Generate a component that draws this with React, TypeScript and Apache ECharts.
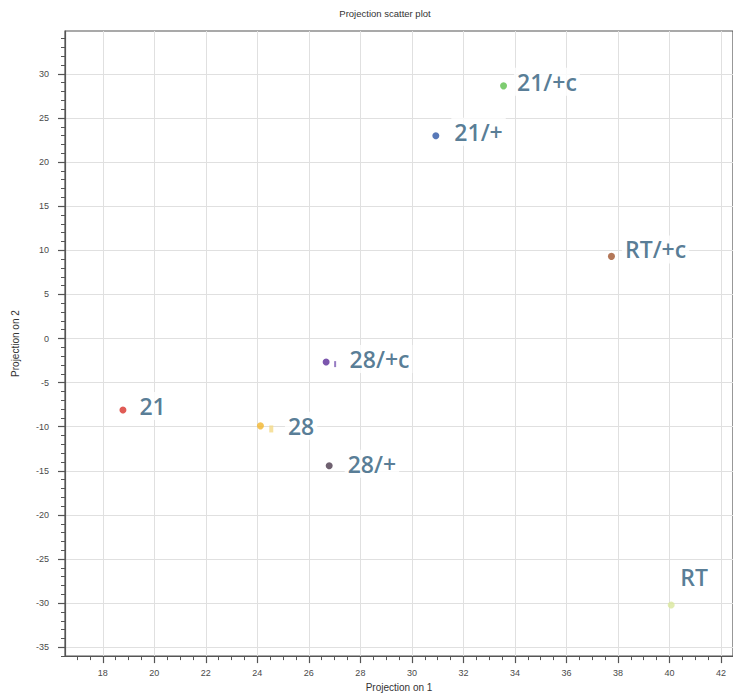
import React, { useEffect, useRef } from "react";
import * as echarts from "echarts";

// ---- data ----
const categories = ["21", "28", "28/+c", "28/+", "21/+", "21/+c", "RT/+c", "RT"];
const xValues = [18.78, 24.12, 26.67, 26.79, 30.93, 33.56, 37.75, 40.07];
const yValues = [-8.1, -9.9, -2.67, -14.43, 22.99, 28.64, 9.31, -30.2];
const xTickValues = [18, 20, 22, 24, 26, 28, 30, 32, 34, 36, 38, 40, 42];
const yTickValues = [-35, -30, -25, -20, -15, -10, -5, 0, 5, 10, 15, 20, 25, 30];
// faint secondary marks next to some points
const ghostX = [24.54, 27.02];
const ghostY = [-10.25, -2.9];

// ---- styles ----
const pointColors = ["#d8322a", "#f2b52c", "#5a2c98", "#4b3a4c", "#2e58a6", "#5dbf4c", "#a0552e", "#d9e79c"];
const labelOffsets: [number, number][] = [
  [10, -4], [21, 0], [17, -3], [12, -2], [12, -4], [7, -4], [7, -7], [23, -10],
];
const labelPositions = ["right", "right", "right", "right", "right", "right", "right", "top"];
const ghostColors = ["#f4da86", "#7d5cb4"];
const ghostSizes: [number, number][] = [[4, 7], [2, 6]];

const X_MIN = 16.53;
const X_MAX = 42.47;
const Y_MIN = -36;
const Y_MAX = 34.86;

function range(a: number, b: number, step: number): number[] {
  const out: number[] = [];
  for (let v = a; v <= b + 1e-9; v += step) out.push(Math.round(v * 100) / 100);
  return out;
}

export default function App() {
  const ref = useRef<HTMLDivElement>(null);
  useEffect(() => {
    if (!ref.current) return;
    const chart = echarts.init(ref.current, undefined, { renderer: "svg" });
    const axisColor = "#555";
    const xMinor = range(17, 42, 0.5);
    const yMinor = range(-36, 34, 1);
    const option: any = {
      animation: false,
      backgroundColor: "#fff",
      textStyle: { fontFamily: "Liberation Sans, Arial, sans-serif" },
      graphic: [
        {
          type: "text",
          x: 385,
          y: 13,
          style: {
            text: "Projection scatter plot",
            fontSize: 9.5,
            fill: "#333",
            align: "center",
            verticalAlign: "middle",
            fontFamily: "Liberation Sans, Arial, sans-serif",
          },
        },
      ],
      grid: {
        left: 65,
        top: 31,
        right: -3,
        bottom: 697 - 658,
        show: true,
        borderColor: axisColor,
        borderWidth: 1.2,
        containLabel: false,
      },
      xAxis: [
        {
          type: "value",
          min: X_MIN,
          max: X_MAX,
          position: "bottom",
          name: "Projection on 1",
          nameLocation: "middle",
          nameGap: 25,
          nameTextStyle: { fontSize: 10, color: "#333" },
          axisLine: { show: true, onZero: false, lineStyle: { color: axisColor, width: 1.2 } },
          axisTick: { show: true, length: 7, customValues: xTickValues, lineStyle: { color: axisColor, width: 1.2 } },
          axisLabel: { customValues: xTickValues, fontSize: 9, color: "#4a4a4a", margin: 12 },
          splitLine: { show: true, lineStyle: { color: "#e0e0e0", width: 1 } },
        },
        {
          type: "value",
          min: X_MIN,
          max: X_MAX,
          position: "bottom",
          axisLine: { show: false, onZero: false },
          axisTick: { show: true, length: 4, customValues: xMinor, lineStyle: { color: axisColor, width: 1 } },
          axisLabel: { show: false },
          splitLine: { show: false },
        },
      ],
      yAxis: [
        {
          type: "value",
          min: Y_MIN,
          max: Y_MAX,
          position: "left",
          name: "Projection on 2",
          nameLocation: "middle",
          nameGap: 45,
          nameTextStyle: { fontSize: 10, color: "#333" },
          axisLine: { show: true, onZero: false, lineStyle: { color: axisColor, width: 1.2 } },
          axisTick: { show: true, length: 7, customValues: yTickValues, lineStyle: { color: axisColor, width: 1.2 } },
          axisLabel: { customValues: yTickValues, fontSize: 9, color: "#4a4a4a", margin: 16 },
          splitLine: { show: true, lineStyle: { color: "#e0e0e0", width: 1 } },
        },
        {
          type: "value",
          min: Y_MIN,
          max: Y_MAX,
          position: "left",
          axisLine: { show: false, onZero: false },
          axisTick: { show: true, length: 4, customValues: yMinor, lineStyle: { color: axisColor, width: 1 } },
          axisLabel: { show: false },
          splitLine: { show: false },
        },
      ],
      series: [
        {
          type: "scatter",
          xAxisIndex: 0,
          yAxisIndex: 0,
          symbolSize: 7,
          z: 3,
          data: ghostX.map((x, i) => ({
            value: [x, ghostY[i]],
            symbol: "rect",
            symbolSize: ghostSizes[i],
            itemStyle: { color: ghostColors[i], opacity: 0.8 },
          })),
        },
        {
          type: "scatter",
          xAxisIndex: 0,
          yAxisIndex: 0,
          symbolSize: 7,
          z: 4,
          data: categories.map((name, i) => ({
            name,
            value: [xValues[i], yValues[i]],
            itemStyle: { color: pointColors[i] },
            label: {
              show: true,
              formatter: "{b}",
              position: labelPositions[i],
              distance: 0,
              offset: labelOffsets[i],
              fontSize: 23,
              lineHeight: 28,
              fontWeight: 600,
              fontFamily: "Open Sans, sans-serif",
              color: "#2c5b7a",
              backgroundColor: "#ffffff",
              padding: [0, 3],
            },
          })),
        },
      ],
    };
    chart.setOption(option);
    return () => chart.dispose();
  }, []);
  return (
    <div
      ref={ref}
      style={{ position: "fixed", left: 0, top: 0, width: 733, height: 697, background: "#fff" }}
    />
  );
}
